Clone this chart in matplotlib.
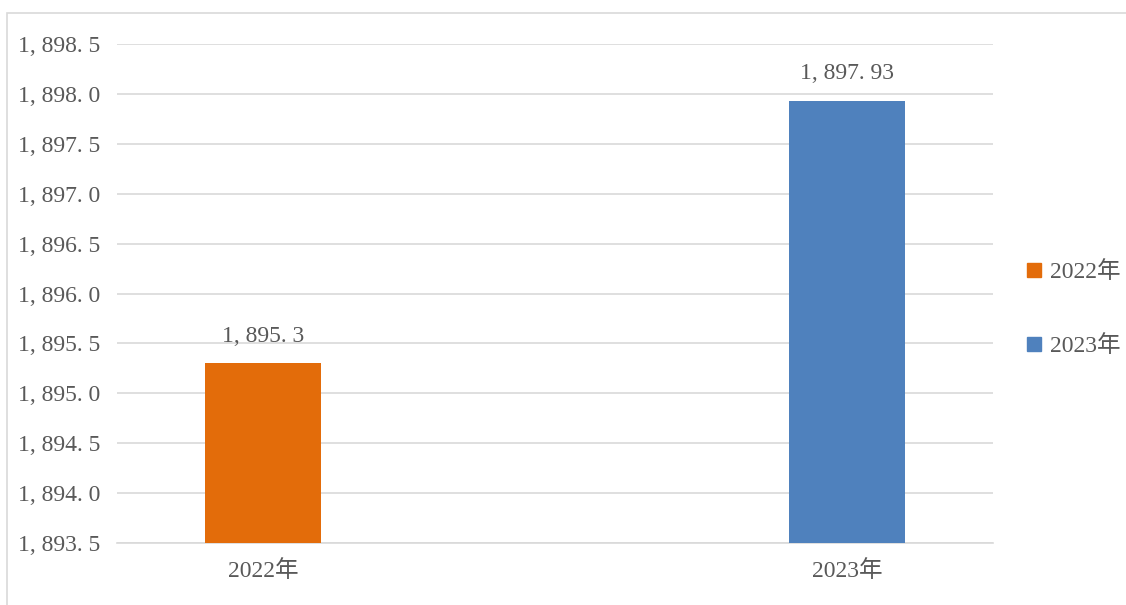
import matplotlib
matplotlib.use("Agg")
import matplotlib.pyplot as plt
from matplotlib.lines import Line2D
from matplotlib.patches import Rectangle

categories = ["2022年", "2023年"]
values = [1895.3, 1897.93]
value_labels = ["1, 895. 3", "1, 897. 93"]
colors = ["#E36C0A", "#4F81BD"]
yticks = [1893.5, 1894.0, 1894.5, 1895.0, 1895.5, 1896.0, 1896.5, 1897.0, 1897.5, 1898.0, 1898.5]
ytick_labels = ["1, 893. 5", "1, 894. 0", "1, 894. 5", "1, 895. 0", "1, 895. 5", "1, 896. 0",
                "1, 896. 5", "1, 897. 0", "1, 897. 5", "1, 898. 0", "1, 898. 5"]

plt.rcParams['font.family'] = ['Liberation Serif', 'Noto Sans CJK SC', 'DejaVu Sans']
txt = "#595959"
fs = 17

W, H = 1126, 605
fig = plt.figure(figsize=(W / 100, H / 100), dpi=100)
fig.patches.append(Rectangle((7 / W, -0.05), 1.1, (H - 13) / H + 0.05, transform=fig.transFigure,
                             fill=False, edgecolor="#d9d9d9", linewidth=1.2, zorder=0))
ax = fig.add_axes([117 / W, (H - 543) / H, (993 - 117) / W, (543 - 44) / H])

x = list(range(len(categories)))
ax.bar(x, [v - yticks[0] for v in values], bottom=yticks[0], width=0.2, color=colors, zorder=3)
for xi, v, lab in zip(x, values, value_labels):
    ax.annotate(lab, (xi, v), xytext=(0, 12), textcoords="offset points", ha="center",
                va="bottom", fontsize=fs, color=txt)

ax.set_xlim(-0.25, 1.25)
ax.set_ylim(yticks[0], yticks[-1])
ax.set_yticks(yticks)
ax.set_yticklabels(ytick_labels)
ax.set_xticks(x)
ax.set_xticklabels(categories)
ax.tick_params(axis="both", length=0, labelsize=fs, colors=txt)
ax.tick_params(axis="y", pad=12)
ax.tick_params(axis="x", pad=12)
ax.grid(axis="y", color="#d9d9d9", linewidth=1.2, zorder=0)
for s in ax.spines.values():
    s.set_visible(False)
ax.spines["bottom"].set_visible(True)
ax.spines["bottom"].set_color("#d9d9d9")
ax.spines["bottom"].set_linewidth(1.2)

handles = [Line2D([], [], linestyle="none", marker="s", markersize=10, color=c) for c in colors]
leg = fig.legend(handles, categories, loc="center left", bbox_to_anchor=(1004 / W, (H - 309) / H),
                 frameon=False, fontsize=fs, labelspacing=2.2, handlelength=0.7, handletextpad=0.35,
                 labelcolor=txt)

fig.savefig("out.png", dpi=100)
